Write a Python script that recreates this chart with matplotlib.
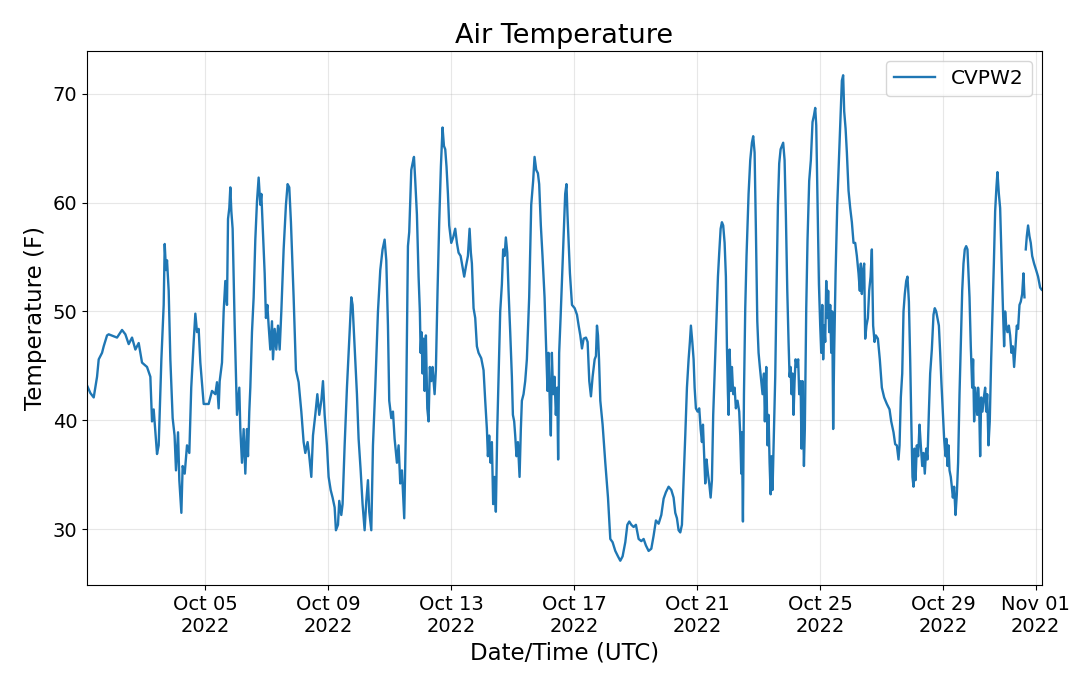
import numpy as np
import pandas as pd
import matplotlib
matplotlib.use("Agg")
import matplotlib.pyplot as plt
import matplotlib.dates as mdates

# Hours after 2022-10-01 00:00 UTC and air temperature (F)
hours = [
    3.7, 6.3, 8.9, 11.5, 12.8, 15.4, 16.7, 19.3, 20.6, 27.1, 31.0, 33.6, 36.2, 38.8, 41.4, 44.0,
    46.6, 50.5, 53.1, 54.4, 55.7, 58.3, 59.6, 61.7, 63.5, 64.3, 65.3, 66.1, 67.4, 68.7, 70.5, 72.0,
    73.1, 74.7, 75.7, 77.3, 78.3, 79.9, 81.7, 83.5, 85.0, 86.9, 88.2, 89.5, 90.8, 92.1, 94.7, 98.6,
    101.2, 103.8, 105.1, 106.4, 107.2, 109.0, 110.3, 111.6, 112.9, 113.7, 114.7, 115.5, 116.3, 117.3,
    118.9, 120.7, 122.5, 123.3, 124.6, 125.9,
    127.2, 128.5, 129.3, 130.3, 131.1, 132.4, 133.7, 135.0, 136.3, 137.6, 138.9, 139.7, 140.7, 142.3,
    143.3, 144.4, 145.4, 146.7, 148.0, 148.8, 150.1, 151.4, 152.7, 154.0, 155.3, 157.1, 158.9, 160.2,
    161.5, 162.8, 164.9, 166.7, 168.8, 170.9, 172.7, 174.0, 175.8, 177.1, 178.7, 180.0, 181.8, 183.4,
    184.9, 186.5, 187.8, 189.1, 190.9, 192.2, 193.8, 195.3, 196.9, 197.9, 199.5, 200.5, 202.1, 203.1,
    204.7, 206.5, 208.3, 209.9, 210.9, 212.5, 214.3, 215.6, 217.2, 218.7, 220.3, 221.6, 222.9, 223.9,
    225.5, 226.8, 228.6, 230.7, 232.5, 234.3, 235.9, 237.2, 238.5, 239.5, 241.1, 242.4, 243.7, 245.5,
    246.8, 248.1, 249.4, 251.2, 252.5,
    254.1, 255.1, 256.7, 257.7, 258.8, 259.8, 261.1, 262.4, 263.4, 264.0, 264.7, 265.5, 266.3, 267.1,
    268.1, 269.2, 270.2, 271.2, 272.3, 273.3, 274.9, 275.9, 277.2, 278.5, 279.8, 281.1, 282.2, 283.2,
    284.2, 285.3, 286.3, 287.9, 289.4, 291.0, 292.3, 293.6, 295.2, 296.7, 298.0, 299.3, 300.9, 302.2,
    303.2, 304.0, 305.3, 306.6, 307.9, 309.2, 311.3, 313.1, 314.4, 315.7, 316.5, 317.5, 318.6, 319.6,
    320.6, 321.7, 322.7, 323.8, 324.8, 326.1, 327.4, 328.4, 329.5, 330.5, 331.6, 332.6, 333.9, 335.2,
    336.0, 337.0, 337.8, 338.8, 339.9, 341.2, 342.2, 343.0, 344.3, 345.6, 346.9, 348.7, 350.3, 351.8,
    352.9, 354.2, 355.5, 356.5, 357.8, 359.1, 360.7, 362.0, 363.0, 363.8, 364.6, 365.6, 366.4, 367.4,
    368.5, 369.5, 370.6, 371.3, 372.1, 373.2, 374.5, 375.8, 376.8, 377.8, 378.6,
    380.5, 382.1, 384.2, 386.0, 387.3, 388.6, 389.9, 391.2, 393.0, 394.3, 395.6, 396.9, 398.2, 399.8,
    400.8, 401.6, 402.4, 403.2, 404.2, 406.0, 408.1, 410.2, 412.0, 413.8, 415.9, 418.0, 419.8, 421.6,
    423.7, 425.3, 426.8, 428.4, 430.2, 432.0, 434.1, 436.2, 438.0, 439.8, 441.9, 444.0, 445.8, 447.6,
    449.7, 451.8, 453.6, 455.4, 457.5, 459.6, 461.4, 462.7, 464.0, 465.3, 466.6, 467.9, 469.2, 470.5,
    471.8, 473.1, 474.1, 474.9, 476.0, 477.0, 477.8, 478.8, 480.1, 481.4, 482.5, 483.5, 484.3, 485.3,
    486.1, 487.1, 488.2, 489.2, 490.3, 491.3, 492.3, 493.4, 494.7, 496.0, 497.0, 498.1, 499.1, 500.1,
    501.2, 502.2,
    503.0, 503.8, 504.3, 505.1, 506.1, 506.9, 507.9, 509.0, 510.0, 511.3, 512.6, 513.4, 514.2, 514.7,
    515.5, 516.3, 517.3, 518.3, 519.9, 521.2, 522.5, 523.5, 524.6, 525.6, 526.7, 527.7, 528.7, 529.8,
    530.8, 531.9, 532.6, 533.7, 534.7, 535.5, 536.3, 537.1, 537.8, 538.6, 539.7, 540.7, 541.7, 542.8,
    543.8, 544.9, 545.9, 546.9, 548.0, 549.0, 550.1, 551.1, 551.9, 552.7, 553.4, 554.2, 555.0, 555.8,
    556.6, 557.6, 558.6, 559.4, 560.5, 561.2, 562.0, 563.1, 563.8, 564.9, 565.9, 567.2, 568.5, 569.8,
    570.9, 571.9, 572.7, 573.7, 574.8, 575.8, 576.6, 577.4, 578.1, 578.9, 579.7, 580.5, 581.3, 582.0,
    582.8, 583.6, 584.4, 585.2, 585.9, 586.7, 587.8, 589.1, 590.1, 591.4, 592.7, 593.7, 594.5, 595.6,
    596.6, 597.9, 599.2, 600.5, 601.8, 603.1, 604.4, 605.7, 606.7, 607.5, 608.3, 609.3, 610.1, 610.9,
    611.9, 613.0, 614.0, 615.1, 616.1, 617.1, 618.2, 619.2, 620.8, 622.3,
    623.9, 625.7, 627.8, 629.9, 631.2, 633.0, 634.3, 635.6, 636.9, 637.7, 638.7, 639.8, 640.8, 641.8,
    642.9, 643.9, 645.0, 646.0, 647.0, 647.8, 648.6, 649.4, 650.2, 651.2, 652.2, 653.3, 654.3, 655.4,
    656.4, 657.4, 658.5, 659.5, 660.6, 661.6, 662.9, 664.2, 665.2, 666.3, 667.3, 668.4, 669.4, 670.4,
    671.5, 672.5, 673.6, 674.3, 675.1, 675.9, 676.7, 677.7, 678.5, 679.3, 680.3, 681.4, 682.4, 683.4,
    684.5, 685.5, 686.6, 687.6, 688.6, 689.7, 690.7, 691.5, 692.3, 693.3, 694.4, 695.1, 695.9, 696.7,
    697.5, 698.3, 699.0, 699.8, 700.6, 701.4, 702.4, 703.5, 704.5, 705.3, 706.1, 707.1, 708.1, 709.2,
    710.2, 711.3, 712.3, 713.3, 714.1, 715.2, 716.2, 717.2, 718.3, 719.3, 720.1, 720.9, 721.9, 723.0,
    724.0, 725.0, 726.1, 727.1, 728.2, 729.2, 730.2, 731.3, 732.3, 733.4, 734.4, 735.2, 735.7, 736.2,
    737.0, 738.0, 739.1, 740.1, 741.2, 742.7, 744.3, 745.8, 747.4, 748.6,
]

temps = [
    43.2, 42.5, 42.1, 44.0, 45.6, 46.2, 46.8, 47.8, 47.9, 47.6, 48.3, 47.9, 47.0, 47.6, 46.5, 47.1,
    45.3, 44.9, 44.0, 39.9, 41.0, 36.9, 37.7, 45.6, 50.6, 56.2, 53.8, 54.7, 51.9, 45.6, 40.2, 38.6,
    35.4, 38.9, 34.5, 31.5, 35.8, 35.1, 37.7, 37.0, 43.0, 47.2, 49.8, 48.1, 48.4, 45.3, 41.5, 41.5,
    42.7, 42.4, 43.5, 41.1, 43.6, 45.3, 50.0, 52.8, 50.6, 58.5, 59.5, 61.4, 59.2, 57.6,
    48.7, 40.5, 43.0, 39.2, 36.1, 39.2,
    35.1, 39.2, 36.7, 40.8, 43.0, 48.1, 51.3, 56.6, 60.1, 62.3, 59.8, 60.8, 57.9, 53.5,
    49.4, 50.6, 48.7, 46.5, 49.1, 45.6, 48.4, 46.5, 48.7, 46.5, 50.0, 55.7, 59.8, 61.7,
    61.4, 58.2, 51.3, 44.6, 43.5, 40.8, 38.0, 37.0, 38.0, 36.7, 34.8, 38.6, 40.5, 42.4,
    40.5, 41.8, 43.6, 40.5, 37.7, 34.8, 33.6, 32.9, 32.0, 29.9, 30.4, 32.6, 31.3, 32.3,
    37.7, 43.0, 47.5, 51.3, 50.6, 46.8, 42.4, 38.3, 35.4, 32.3, 29.9, 32.6, 34.5, 31.6,
    29.9, 37.7, 43.0, 50.0, 53.8, 55.7, 56.6, 54.7, 48.7, 41.8, 40.2, 40.8, 38.3, 36.1,
    37.7, 34.2, 35.4, 31.0, 39.2,
    56.0, 57.3, 63.0, 63.6, 64.2, 62.0, 58.9, 53.2, 50.0, 46.2, 48.1, 44.3, 47.5, 42.7,
    47.8, 41.1, 39.9, 44.9, 43.6, 44.9, 42.4, 44.6, 51.9, 58.2, 63.3, 66.9, 65.2, 64.9,
    63.3, 60.8, 57.9, 56.3, 56.8, 57.6, 56.3, 55.4, 55.1, 54.1, 53.2, 54.1, 55.1, 57.6,
    55.4, 54.4, 50.3, 49.4, 46.8, 46.2, 45.7, 44.6, 41.8, 39.2, 36.7, 38.6, 36.1, 38.0,
    32.3, 34.8, 31.6, 39.2, 44.0, 50.0, 52.5, 55.7, 55.1, 56.8, 55.4, 51.9, 48.1, 44.0,
    40.5, 39.9, 38.6, 36.7, 38.0, 34.8, 39.2, 41.8, 42.4, 43.6, 45.6, 51.3, 59.8, 62.0,
    64.2, 63.0, 62.7, 61.7, 57.9, 55.1, 51.3, 46.5, 42.7, 46.2, 42.4, 38.6, 46.2, 42.4,
    44.0, 40.5, 43.0, 36.4, 46.2, 49.4, 53.5, 57.6, 60.8, 61.7, 58.9,
    53.5, 50.6, 50.3, 49.7, 48.7, 47.8, 46.6, 47.5, 47.6, 47.2, 43.6, 42.2, 44.0, 45.6,
    45.9, 48.7, 47.8, 45.6, 41.8, 39.6, 36.1, 32.9, 29.1, 28.8, 28.0, 27.5, 27.1, 27.5,
    28.8, 30.4, 30.7, 30.4, 30.2, 30.4, 29.1, 28.9, 29.1, 28.5, 28.0, 28.2, 29.4, 30.8,
    30.5, 31.3, 32.8, 33.4, 33.9, 33.6, 32.9, 31.5, 31.0, 29.9, 29.7, 30.4, 34.5, 38.6,
    43.0, 45.6, 47.2, 48.7, 47.2, 45.6, 43.0, 41.1, 40.8, 41.1, 39.2, 38.0, 39.6, 36.7,
    34.2, 36.4, 35.1, 34.2, 32.9, 34.5, 40.5, 44.3, 48.7, 53.2, 55.4, 57.6, 58.2, 57.9,
    56.3, 53.2,
    46.8, 42.4, 40.5, 46.5, 42.7, 44.9, 42.4, 43.0, 41.1, 41.8, 40.8, 38.6, 35.1, 38.9,
    30.7, 42.4, 50.3, 55.1, 60.8, 63.9, 65.5, 66.1, 64.6, 57.6, 49.1, 46.2, 44.9, 43.6,
    42.4, 44.3, 39.9, 44.9, 37.7, 40.5, 36.1, 33.2, 36.7, 33.6, 39.2, 44.0, 51.9, 59.8,
    63.6, 64.9, 65.2, 65.5, 63.9, 58.9, 51.9, 47.2, 44.0, 44.9, 42.4, 44.3, 40.5, 43.6,
    45.6, 44.9, 45.6, 42.4, 43.6, 37.4, 43.6, 35.8, 39.2, 50.3, 56.6, 62.0, 63.9, 67.4,
    68.0, 68.7, 67.1, 60.1, 52.5, 48.7, 46.2, 50.6, 45.6, 48.7, 47.2, 52.8, 49.4, 51.9,
    48.1, 50.6, 46.2, 50.0, 39.2, 46.2, 53.5, 59.8, 63.0, 67.1, 71.2, 71.7, 68.4, 66.8,
    64.6, 61.1, 59.5, 58.2, 56.3, 56.3, 55.1, 53.5, 51.9, 54.4, 51.6, 53.8, 54.4, 47.5,
    48.7, 49.4, 51.9, 53.2, 55.7, 48.7, 47.2, 47.8, 47.5, 45.6,
    43.0, 42.1, 41.5, 41.0, 39.9, 38.9, 37.8, 37.7, 36.4, 37.7, 42.1, 44.3, 50.0, 51.6,
    52.8, 53.2, 50.9, 45.6, 39.2, 34.8, 33.9, 37.4, 34.5, 37.7, 36.7, 39.6, 37.7, 35.8,
    37.0, 35.1, 37.4, 36.4, 40.8, 44.3, 46.5, 49.7, 50.3, 50.0, 49.4, 48.7, 46.2, 43.4,
    40.8, 38.3, 36.7, 38.3, 35.8, 37.7, 35.4, 34.8, 33.9, 32.9, 33.9, 31.3, 33.2, 36.1,
    42.4, 46.8, 51.9, 54.4, 55.7, 56.0, 55.7, 53.5, 51.3, 46.8, 43.0, 45.6, 39.9, 43.0,
    41.8, 40.5, 43.0, 41.5, 36.7, 42.1, 40.8, 42.1, 43.0, 40.8, 42.4, 37.7, 39.9, 45.6,
    49.7, 54.4, 59.2, 61.4, 62.8, 60.8, 59.5, 55.1, 50.6, 46.8, 50.0, 48.7, 48.1, 48.7,
    47.8, 46.2, 46.8, 44.9, 46.8, 48.7, 48.4, 50.6, 50.9, 51.6, 53.5, 51.3, np.nan, 55.7,
    56.9, 57.9, 56.9, 56.3, 55.1, 54.4, 53.8, 53.2, 52.2, 52.0,
]

station = "CVPW2"

times = pd.Timestamp("2022-10-01") + pd.to_timedelta(hours, unit="h")

fig = plt.figure(figsize=(10.8, 6.77), dpi=100)
ax = fig.add_axes([0.0806, 0.1359, 0.8839, 0.7888])

ax.plot(times, temps, color="tab:blue", linewidth=1.7, label=station)

ax.set_xlim(times[0], times[-1])
ax.xaxis.set_major_locator(mdates.DayLocator(bymonthday=[1, 5, 9, 13, 17, 21, 25, 29]))
ax.xaxis.set_major_formatter(mdates.DateFormatter("%b %d\n%Y"))

ax.grid(True, alpha=0.3)
ax.tick_params(labelsize=14)
ax.set_title("Air Temperature", fontsize=19.5)
ax.set_xlabel("Date/Time (UTC)", fontsize=16.5)
ax.set_ylabel("Temperature (F)", fontsize=16.5)
ax.legend(loc="upper right", fontsize=14.5)

fig.savefig("out.png", dpi=100)
